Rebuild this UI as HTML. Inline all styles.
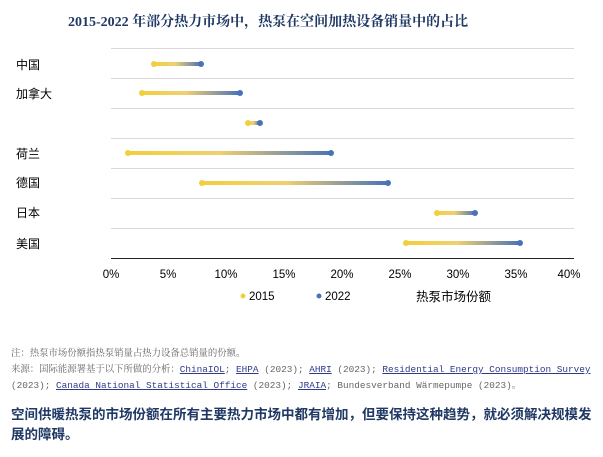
<!DOCTYPE html>
<html><head><meta charset="utf-8"><style>
body{margin:0;width:603px;height:457px;background:#fff;font-family:"Liberation Sans","Noto Sans CJK SC",sans-serif;position:relative;overflow:hidden}
.t{position:absolute;white-space:nowrap}
.title{left:68px;top:11px;font-size:14px;font-weight:bold;color:#1f3864;font-family:"Liberation Serif","Noto Serif CJK SC",serif}
.note{left:11px;font-size:9.4px;color:#666;font-family:"Liberation Mono","Noto Serif CJK SC",serif}
.note u{color:#2f3a8a}
.bottom{left:11px;top:405px;font-size:13.5px;font-weight:bold;color:#1f3864;line-height:20px;white-space:normal;width:585px}
</style></head><body>
<div class="t title">2015-2022 年部分热力市场中，热泵在空间加热设备销量中的占比</div>
<svg width="603" height="320" style="position:absolute;left:0;top:0" font-family="Liberation Sans, Noto Sans CJK SC, sans-serif">
<defs><linearGradient id="g" x1="0" x2="1" y1="0" y2="0"><stop offset="0" stop-color="#f2cf3c"/><stop offset="0.45" stop-color="#f0d070"/><stop offset="1" stop-color="#4a72b8"/></linearGradient></defs>
<g stroke="#d9d9d9" stroke-width="1">
<line x1="111" x2="574" y1="48.5" y2="48.5"/><line x1="111" x2="574" y1="78.5" y2="78.5"/><line x1="111" x2="574" y1="108.5" y2="108.5"/><line x1="111" x2="574" y1="138.5" y2="138.5"/><line x1="111" x2="574" y1="168.5" y2="168.5"/><line x1="111" x2="574" y1="198.5" y2="198.5"/><line x1="111" x2="574" y1="228.5" y2="228.5"/>
</g>
<line x1="111" x2="574" y1="258.5" y2="258.5" stroke="#222" stroke-width="1"/>
<g font-size="12" fill="#000">
<text x="16" y="69">中国</text><text x="16" y="98">加拿大</text><text x="16" y="158">荷兰</text><text x="16" y="187">德国</text><text x="16" y="217">日本</text><text x="16" y="248">美国</text>
</g>
<g font-size="11.5" fill="#000" text-anchor="middle">
<text x="111" y="278">0%</text><text x="168" y="278">5%</text><text x="226" y="278">10%</text><text x="284" y="278">15%</text><text x="342" y="278">20%</text><text x="400" y="278">25%</text><text x="458" y="278">30%</text><text x="516" y="278">35%</text><text x="569" y="278">40%</text>
</g>
<circle cx="243" cy="296" r="2.5" fill="#f2cf3c"/><text x="249" y="300" font-size="11.5">2015</text>
<circle cx="319" cy="296" r="2.5" fill="#4a72b8"/><text x="325" y="300" font-size="11.5">2022</text>
<text x="416" y="301" font-size="12.5">热泵市场份额</text>
<g fill="url(#g)">
<rect x="154" width="47" y="62" height="4"/><rect x="142" width="98" y="91" height="4"/><rect x="248" width="12" y="121" height="4"/><rect x="128" width="203" y="151" height="4"/><rect x="202" width="186" y="181" height="4"/><rect x="437" width="38" y="211" height="4"/><rect x="406" width="114" y="241" height="4"/>
</g>
<g fill="#f2cf3c"><circle cx="154" cy="64" r="3"/><circle cx="142" cy="93" r="3"/><circle cx="248" cy="123" r="3"/><circle cx="128" cy="153" r="3"/><circle cx="202" cy="183" r="3"/><circle cx="437" cy="213" r="3"/><circle cx="406" cy="243" r="3"/></g>
<g fill="#4a72b8"><circle cx="201" cy="64" r="3"/><circle cx="240" cy="93" r="3"/><circle cx="260" cy="123" r="3"/><circle cx="331" cy="153" r="3"/><circle cx="388" cy="183" r="3"/><circle cx="475" cy="213" r="3"/><circle cx="520" cy="243" r="3"/></g>
</svg>
<div class="t note" style="top:345px">注：热泵市场份额指热泵销量占热力设备总销量的份额。</div>
<div class="t note" style="top:361px">来源：国际能源署基于以下所做的分析：<u>ChinaIOL</u>; <u>EHPA</u> (2023); <u>AHRI</u> (2023); <u>Residential Energy Consumption Survey</u></div>
<div class="t note" style="top:377px">(2023); <u>Canada National Statistical Office</u> (2023); <u>JRAIA</u>; Bundesverband Wärmepumpe (2023)。</div>
<div class="t bottom">空间供暖热泵的市场份额在所有主要热力市场中都有增加，但要保持这种趋势，就必须解决规模发展的障碍。</div>
</body></html>
